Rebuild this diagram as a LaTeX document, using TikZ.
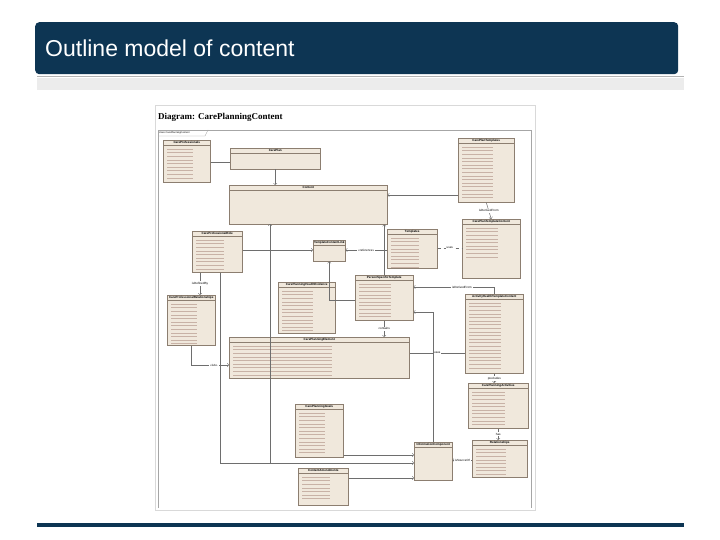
\documentclass[tikz,border=0pt]{standalone}
\usepackage{fontspec}
\setmainfont{Liberation Sans}
\newfontfamily\seriff{Liberation Serif}
\usetikzlibrary{calc}
\definecolor{navy}{HTML}{0D3553}
\definecolor{clsfill}{HTML}{F0E8DC}
\definecolor{clsborder}{HTML}{8C7E70}
\definecolor{linkc}{HTML}{6E6E6E}
\definecolor{attr}{HTML}{C8B2A6}
\newcommand{\umlcls}[7]{%
  \node[cls,minimum width=#4pt,minimum height=#5pt] (#1) at (#2,#3) {};
  \node[hdr] (#1h) at (#1.north) {#6};
  \draw[clsborder,line width=0.4pt] ($(#1.north west)+(0,5.5)$) -- ($(#1.north east)+(0,5.5)$);
  \ifnum#7>0
  \foreach \i in {1,...,#7} {\draw[attr,line width=0.5pt] ($(#1.north west)+(4,5.5+\i*3.6)$) -- ++(#4*0.55,0);}
  \fi}
\begin{document}
\begin{tikzpicture}[x=1pt,y=-1pt,
  cls/.style={draw=clsborder,fill=clsfill,line width=0.5pt,anchor=north west,inner sep=0pt},
  hdr/.style={font=\fontsize{3}{3.5}\selectfont\bfseries,anchor=north,inner sep=1pt},
  lnk/.style={draw=linkc,line width=0.5pt},
  lbl/.style={font=\fontsize{3}{3.5}\selectfont,inner sep=1pt,fill=white}]
\useasboundingbox (0,0) rectangle (720,540);
\fill[white] (0,0) rectangle (720,540);
% title bar
\node[fill=navy,rounded corners=4pt,minimum width=643pt,minimum height=52pt,anchor=north west,inner sep=0pt] (bar) at (35,22) {};
\node[text=white,font=\fontsize{23}{27}\selectfont,anchor=west,inner sep=0pt] (ttl) at (45,48) {Outline model of content};
\draw[gray!60,line width=0.8pt] (37,76) -- (684,76);
\fill[gray!15] (37,78) rectangle (684,90);
\draw[navy,line width=3.5pt] (37,525) -- (684,525);
% diagram frame
\node[draw=gray!30,fill=white,minimum width=380pt,minimum height=405pt,anchor=north west,inner sep=0pt] (img) at (155,105) {};
\node[anchor=west,font=\seriff\bfseries\fontsize{9}{10}\selectfont,inner sep=0pt] (dt) at (158,117) {Diagram: CarePlanningContent};
\draw[gray!70,line width=0.4pt] (158,508) -- (158,130) -- (531,130) -- (531,508);
\draw[gray!70,line width=0.4pt] (158,136) -- (205,136) -- (208,130);
\node[anchor=west,font=\fontsize{2.5}{3}\selectfont,inner sep=0pt] (fl) at (159,133) {class CarePlanningContent};
\umlcls{cpro}{163}{140}{47}{42}{CareProfessionals}{9}
\umlcls{cplan}{230}{148}{90}{21}{CarePlan}{0}
\umlcls{cont}{229}{185}{158}{39}{Content}{0}
\umlcls{cpt}{458}{138}{56}{64}{CarePlanTemplates}{15}
\umlcls{cptc}{462}{219}{58}{59}{CarePlanTemplateContent}{9}
\umlcls{tcl}{313}{240}{32}{21}{TemplateContentLink}{0}
\umlcls{tmpl}{387}{229}{50}{39}{Templates}{9}
\umlcls{cpr}{192}{231}{50}{41}{CareProfessionalRole}{9}
\umlcls{cprr}{167}{295}{48}{50}{CareProfessionalRelationships}{12}
\umlcls{cphe}{278}{282}{57}{51}{CarePlanningHealthEvidence}{12}
\umlcls{pst}{355}{275}{58}{45}{PersonSpecificTemplate}{10}
\umlcls{ahtc}{465}{294}{58}{79}{ActivityHealthTemplateContent}{19}
\umlcls{cpe}{229}{337}{180}{41}{CarePlanningElement}{9}
\umlcls{cpa}{468}{383}{60}{45}{CarePlanningActivities}{10}
\umlcls{cpg}{295}{404}{48}{53}{CarePlanningGoals}{12}
\umlcls{ic}{414}{442}{38}{38}{InformationComponent}{0}
\umlcls{rel}{472}{440}{55}{37}{Relationships}{8}
\umlcls{cam}{298}{468}{50}{37}{ContentAmendments}{7}
% connectors
\draw[lnk] (cpro.east |- 0,162) -- (cplan.west |- 0,162);
\draw[lnk,->] (cplan.south) -- (cplan.south |- cont.north);
\draw[lnk,->] (cpt.west |- 0,195) -- (cont.east |- 0,195);
\draw[lnk,->] (cpt.south) -- (cptc.north) node[lbl,midway] {isDerivedFrom};
\draw[lnk,->] (tmpl.west |- 0,250) -- (tcl.east |- 0,250) node[lbl,midway] {«reference»};
\draw[lnk,->] (cpr.east |- 0,250) -- (tcl.west |- 0,250);
\draw[lnk,dashed] (tmpl.east |- 0,248) -- (cptc.west |- 0,248) node[lbl,midway] {uses};
\draw[lnk,->] (cpr.south -| 200,0) -- (cprr.north -| 200,0) node[lbl,midway] {isDefinedBy};
\draw[lnk,->] (ahtc.north) |- (pst.east |- 0,287) node[lbl,pos=0.7] {isDerivedFrom};
\draw[lnk,->] (pst.west |- 0,300) -| (tcl.south);
\draw[lnk,->] (pst.north) -- (pst.north |- cont.south);
\draw[lnk,->] (pst.south) -- (pst.south |- cpe.north) node[lbl,midway] {contains};
\draw[lnk] (cpe.east |- 0,353) -- (ahtc.west |- 0,353) node[lbl,midway] {uses};
\draw[lnk,->] (cprr.south) |- (cpe.west |- 0,365) node[lbl,pos=0.8] {«isA»};
\draw[lnk,->] (ahtc.south) -- (ahtc.south |- cpa.north) node[lbl,midway] {precludes};
\draw[lnk,->] (cpa.south) -- (rel.north -| cpa.south) node[lbl,midway] {has};
\draw[lnk,->] (rel.west |- 0,460) -- (ic.east |- 0,460) node[lbl,midway] {isSourceOf};
\draw[lnk,->] (ic.north) |- (pst.east |- 0,312);
\draw[lnk,->] (cpg.east |- 0,455) -- (ic.west |- 0,455);
\draw[lnk,->] (cam.east |- 0,478) -- (ic.west |- 0,478);
\draw[lnk,->] (cpr.south -| 220,0) |- (ic.west |- 0,463);
\draw[lnk,->] (270,463) -- (270,224);
\end{tikzpicture}
\end{document}
